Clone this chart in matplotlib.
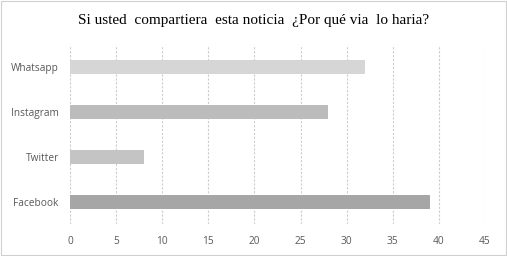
import matplotlib
matplotlib.use("Agg")
import matplotlib.pyplot as plt

# datos
categorias = ["Facebook", "Twitter", "Instagram", "Whatsapp"]
valores = [39, 8, 28, 32]
colores = ["#a6a6a6", "#c4c4c4", "#bcbcbc", "#d6d6d6"]
ticks_x = [0, 5, 10, 15, 20, 25, 30, 35, 40, 45]

titulo = "Si usted  compartiera  esta noticia  \u00bfPor qu\u00e9 via  lo haria?"

fig = plt.figure(figsize=(5.07, 2.56), dpi=100)
ax = fig.add_axes([0.138, 0.125, 0.8185, 0.699])

ax.barh(range(len(categorias)), valores, height=0.31, color=colores, zorder=2)

ax.set_xlim(0, 45)
ax.set_ylim(-0.5, len(categorias) - 0.5)
ax.set_xticks(ticks_x)
ax.set_yticks(range(len(categorias)))
ax.set_yticklabels(categorias)

ax.grid(axis="x", color="#cccccc", linestyle=(0, (2, 1.5)), linewidth=0.8, zorder=0)
for s in ax.spines.values():
    s.set_visible(False)
ax.tick_params(axis="both", length=0, labelsize=7.3, labelcolor="#595959")
ax.tick_params(axis="x", pad=9)
ax.tick_params(axis="y", pad=8)
for lbl in ax.get_xticklabels() + ax.get_yticklabels():
    lbl.set_family("Open Sans")

fig.text(0.5, 0.92, titulo, ha="center", va="center", fontsize=11.0,
         family="Liberation Serif", color="#000000")

# borde del grafico
fig.patches.append(plt.Rectangle((0.002, 0.004), 0.996, 0.992, transform=fig.transFigure,
                                 fill=False, edgecolor="#d0d0d0", linewidth=0.8))

fig.savefig("out.png", dpi=100)
